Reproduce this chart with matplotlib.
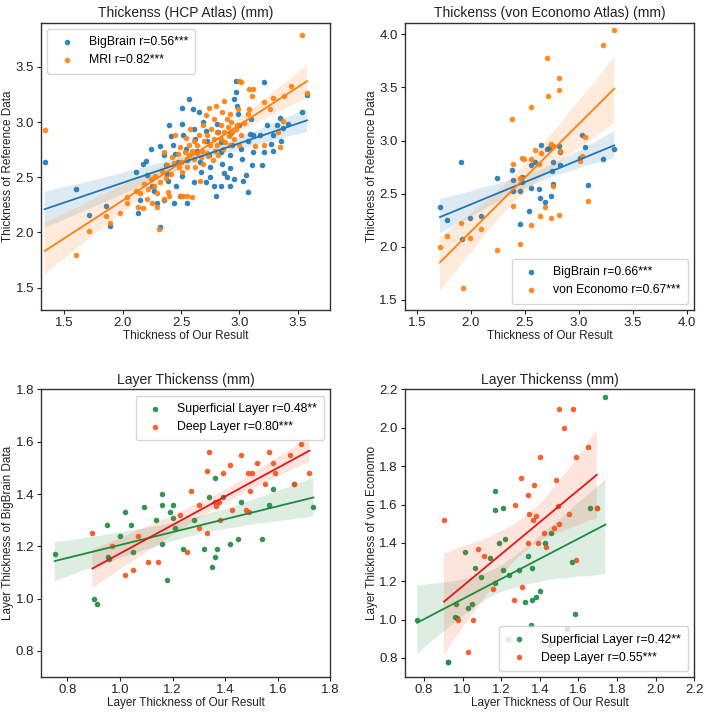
import matplotlib
matplotlib.use("Agg")
import matplotlib.pyplot as plt
import seaborn as sns
import numpy as np

plt.rcParams['font.family'] = ['Liberation Sans', 'DejaVu Sans']

# ____________________ HCP atlas (top left) ____________________
hcp_bb_x = [1.33, 1.60, 1.86, 1.71, 1.89, 2.11, 2.13, 2.17, 2.20, 2.15,
            2.24, 2.21, 2.25, 2.27, 2.32, 2.29, 2.32, 2.35, 2.37, 2.38,
            2.39, 2.35, 2.40, 2.41, 2.43, 2.45, 2.47, 2.46, 2.44, 2.51,
            2.51, 2.52, 2.54, 2.55, 2.51, 2.49, 2.55, 2.57, 2.60, 2.61,
            2.62, 2.64, 2.66, 2.67, 2.61, 2.65, 2.69, 2.71, 2.72, 2.74,
            2.75, 2.75, 2.71, 2.78, 2.80, 2.81, 2.82, 2.84, 2.84, 2.85,
            2.87, 2.89, 2.84, 2.92, 2.94, 2.92, 2.92, 2.95, 2.92, 2.97,
            2.95, 2.98, 2.99, 3.00, 3.01, 3.02, 3.03, 2.97, 3.06, 3.07,
            3.07, 3.09, 3.12, 3.10, 3.12, 3.11, 3.18, 3.21, 3.19, 3.24,
            3.27, 3.29, 3.29, 3.21, 3.32, 3.36, 3.35, 3.37, 3.42, 3.54,
            3.58]
hcp_bb_y = [2.64, 2.39, 2.24, 2.16, 2.06, 2.55, 2.18, 2.62, 2.65, 2.29,
            2.76, 2.52, 2.42, 2.38, 2.05, 2.27, 2.78, 2.70, 2.61, 2.53,
            2.47, 2.29, 2.97, 2.87, 2.79, 2.71, 2.64, 2.42, 2.27, 3.13,
            2.98, 2.88, 2.76, 2.66, 2.51, 2.33, 2.27, 3.21, 3.12, 2.94,
            2.85, 2.74, 2.64, 2.55, 2.46, 3.09, 3.00, 2.92, 2.83, 2.70,
            2.59, 2.50, 2.46, 2.42, 2.33, 2.98, 2.91, 2.82, 2.73, 2.62,
            2.54, 2.50, 2.42, 2.89, 2.79, 2.70, 2.58, 2.48, 2.42, 3.27,
            3.21, 3.15, 3.07, 2.97, 2.76, 2.67, 2.47, 3.37, 2.52, 2.37,
            2.83, 2.89, 2.88, 3.03, 2.73, 2.61, 2.88, 2.73, 2.61, 2.97,
            2.80, 2.88, 2.74, 3.36, 2.97, 2.83, 3.04, 2.95, 2.98, 3.09,
            3.25]
hcp_mri_x = [1.33, 1.60, 1.71, 1.86, 1.89, 1.98, 2.04, 2.04, 2.11, 2.13,
             2.15, 2.17, 2.18, 2.21, 2.22, 2.24, 2.25, 2.27, 2.28, 2.29,
             2.29, 2.31, 2.32, 2.34, 2.35, 2.35, 2.37, 2.38, 2.39, 2.40,
             2.41, 2.42, 2.44, 2.45, 2.47, 2.48, 2.49, 2.50, 2.51, 2.52,
             2.53, 2.54, 2.55, 2.55, 2.57, 2.57, 2.58, 2.59, 2.59, 2.61,
             2.61, 2.62, 2.64, 2.64, 2.65, 2.66, 2.67, 2.68, 2.69, 2.69,
             2.70, 2.71, 2.72, 2.72, 2.73, 2.74, 2.75, 2.76, 2.77, 2.78,
             2.78, 2.79, 2.80, 2.81, 2.81, 2.82, 2.84, 2.84, 2.85, 2.86,
             2.87, 2.87, 2.88, 2.89, 2.90, 2.91, 2.92, 2.92, 2.93, 2.94,
             2.95, 2.97, 2.98, 3.00, 3.01, 3.04, 3.07, 3.08, 2.99, 3.00,
             3.01, 3.08, 3.12, 3.11, 3.21, 3.26, 3.29, 3.33, 3.37, 3.21,
             3.38, 3.44, 3.54, 3.58, 3.35, 3.13, 2.49, 2.55]
hcp_mri_y = [2.93, 1.80, 2.01, 2.15, 2.09, 2.18, 2.32, 2.27, 2.38, 2.23,
             2.36, 2.22, 2.44, 2.30, 2.39, 2.48, 2.27, 2.42, 2.51, 2.36,
             2.23, 2.03, 2.46, 2.56, 2.30, 2.73, 2.49, 2.61, 2.37, 2.33,
             2.53, 2.68, 2.63, 2.88, 2.71, 2.59, 2.77, 2.64, 2.55, 2.33,
             2.73, 2.86, 2.67, 2.59, 2.79, 2.70, 2.94, 2.32, 2.74, 2.83,
             2.67, 2.59, 2.72, 2.79, 2.88, 2.47, 2.68, 2.74, 2.97, 2.62,
             2.83, 3.06, 2.72, 2.88, 2.69, 3.13, 2.79, 2.94, 2.66, 2.85,
             3.03, 2.74, 3.15, 2.91, 2.79, 2.70, 2.97, 2.85, 3.09, 2.76,
             3.19, 2.91, 2.82, 3.03, 2.96, 2.87, 3.07, 2.79, 3.00, 2.91,
             2.85, 2.94, 2.97, 2.79, 2.88, 2.99, 3.07, 3.12, 3.12, 3.37,
             3.36, 3.30, 3.30, 3.24, 3.18, 3.12, 3.22, 2.91, 3.01, 2.79,
             3.24, 3.33, 3.79, 3.26, 2.77, 2.78, 2.33, 2.33]

# ____________________ von Economo atlas (top right) ____________________
ve_bb_x = [1.715, 1.785, 1.91, 1.92, 1.99, 2.10, 2.24, 2.38, 2.39, 2.39,
           2.46, 2.46, 2.48, 2.48, 2.54, 2.56, 2.56, 2.60, 2.63, 2.64,
           2.65, 2.69, 2.71, 2.73, 2.74, 2.75, 2.76, 2.76, 2.82, 2.83,
           2.83, 3.03, 3.01, 3.06, 3.09, 3.23, 3.33]
ve_bb_y = [2.37, 2.25, 2.80, 2.07, 2.27, 2.29, 2.65, 2.72, 2.63, 2.52,
           2.52, 2.21, 2.66, 2.61, 2.34, 2.55, 2.77, 2.80, 2.54, 2.46,
           2.96, 2.42, 2.92, 2.93, 2.48, 2.71, 2.80, 2.59, 2.95, 2.77,
           2.89, 3.05, 2.84, 2.94, 2.58, 2.83, 2.92]
ve_ve_x = [1.715, 1.785, 1.91, 1.93, 1.99, 2.10, 2.24, 2.38, 2.39, 2.39,
           2.46, 2.46, 2.48, 2.49, 2.56, 2.56, 2.56, 2.60, 2.63, 2.64,
           2.65, 2.69, 2.71, 2.72, 2.74, 2.74, 2.76, 2.76, 2.82, 2.82,
           2.82, 2.83, 3.01, 3.03, 3.06, 3.09, 3.23, 3.33]
ve_ve_y = [2.00, 2.10, 2.22, 1.61, 2.08, 2.17, 1.97, 3.20, 2.78, 2.38,
           2.02, 2.65, 2.84, 2.83, 3.32, 2.20, 2.83, 2.91, 2.78, 2.29,
           2.88, 2.37, 3.78, 3.42, 2.27, 2.97, 2.95, 2.57, 3.59, 3.48,
           2.30, 2.90, 2.81, 2.85, 3.03, 2.43, 3.90, 4.04]

# ____________________ layers vs BigBrain (bottom left) ____________________
bb_sup_x = [0.752, 0.90, 0.914, 0.952, 0.955, 0.96, 1.00, 1.02, 1.04, 1.05,
            1.09, 1.135, 1.16, 1.16, 1.16, 1.18, 1.19, 1.20, 1.20, 1.21,
            1.24, 1.28, 1.32, 1.34, 1.35, 1.36, 1.36, 1.37, 1.39, 1.42,
            1.45, 1.46, 1.54, 1.565, 1.58, 1.66, 1.735]
bb_sup_y = [1.17, 1.00, 0.98, 1.28, 1.16, 1.15, 1.24, 1.33, 1.28, 1.18,
            1.35, 1.30, 1.40, 1.36, 1.21, 1.07, 1.33, 1.31, 1.36, 1.27,
            1.19, 1.30, 1.19, 1.39, 1.12, 1.16, 1.46, 1.19, 1.39, 1.21,
            1.23, 1.37, 1.23, 1.36, 1.42, 1.44, 1.35]
bb_deep_x = [0.895, 0.97, 1.02, 1.05, 1.07, 1.105, 1.145, 1.23, 1.255, 1.27,
             1.30, 1.30, 1.33, 1.33, 1.34, 1.36, 1.365, 1.37, 1.375, 1.38,
             1.39, 1.42, 1.425, 1.46, 1.48, 1.485, 1.49, 1.495, 1.50, 1.52,
             1.55, 1.565, 1.58, 1.59, 1.645, 1.66, 1.69, 1.72]
bb_deep_y = [1.25, 1.20, 1.09, 1.11, 1.24, 1.14, 1.14, 1.32, 1.18, 1.41,
             1.36, 1.27, 1.25, 1.49, 1.56, 1.37, 1.355, 1.37, 1.37, 1.30,
             1.48, 1.51, 1.34, 1.55, 1.34, 1.48, 1.33, 1.41, 1.48, 1.52,
             1.44, 1.56, 1.52, 1.48, 1.55, 1.44, 1.59, 1.48]

# ____________________ layers vs von Economo (bottom right) ____________________
# two green dots are hidden under other dots in the picture (guessed)
ve_sup_x = [0.764, 0.923, 0.923, 0.963, 0.958, 0.971, 1.01, 1.026, 1.048, 1.062,
            1.095, 1.14, 1.17, 1.17, 1.17, 1.19, 1.21, 1.21, 1.22, 1.24,
            1.29, 1.325, 1.34, 1.355, 1.36, 1.36, 1.38, 1.40, 1.425, 1.46,
            1.455, 1.54, 1.565, 1.58, 1.66, 1.695, 1.74]
ve_sup_y = [1.00, 0.78, 0.78, 1.08, 1.015, 1.01, 1.35, 1.06, 1.08, 1.27,
            1.22, 1.32, 1.67, 1.57, 1.19, 1.40, 1.58, 1.26, 1.42, 1.23,
            1.26, 1.09, 1.33, 0.97, 1.27, 1.10, 1.12, 1.15, 1.40, 1.45,
            0.87, 0.95, 1.30, 1.03, 1.58, 1.58, 2.16]
ve_deep_x = [0.903, 0.975, 1.03, 1.055, 1.08, 1.11, 1.155, 1.237, 1.266, 1.27,
             1.30, 1.305, 1.34, 1.34, 1.345, 1.365, 1.37, 1.38, 1.39, 1.40,
             1.42, 1.43, 1.475, 1.485, 1.495, 1.50, 1.50, 1.525, 1.55, 1.57,
             1.585, 1.59, 1.65, 1.665, 1.695]
ve_deep_y = [1.52, 1.00, 0.83, 1.00, 1.37, 1.33, 1.16, 0.90, 1.10, 1.60,
             1.74, 1.17, 1.65, 1.40, 1.55, 1.52, 1.70, 1.54, 1.40, 1.85,
             1.45, 1.38, 1.48, 1.73, 1.59, 2.10, 1.50, 2.00, 1.55, 2.10,
             1.85, 1.31, 1.90, 0.90, 1.58]

BLUE = '#1f77b4'
ORANGE = '#ff7f0e'
GREEN = '#1e8a3e'
DEEP = '#f4511e'
EDGE = '#3a2e2e'


def reg(ax, x, y, color, label, line_color=None):
    sns.regplot(x=np.array(x), y=np.array(y), ax=ax, color=color, label=label,
                seed=0, scatter_kws={'s': 16, 'alpha': 0.9, 'linewidths': 0},
                line_kws={'lw': 1.3})
    if line_color is not None:
        ax.lines[-1].set_color(line_color)


def style(ax, title, xlabel, ylabel, lim_x, lim_y, ticks_x, ticks_y, loc):
    ax.set_title(title, fontsize=10, color='#222222', pad=4)
    ax.set_xlabel(xlabel, fontsize=8.5, color='#222222', labelpad=1)
    ax.set_ylabel(ylabel, fontsize=8.5, color='#222222', labelpad=1)
    ax.set_xlim(lim_x)
    ax.set_ylim(lim_y)
    ax.set_xticks(ticks_x)
    ax.set_yticks(ticks_y)
    ax.tick_params(labelsize=9.5, colors='#222222', length=3, pad=2)
    for s in ax.spines.values():
        s.set_color(EDGE)
        s.set_linewidth(1.0)
    ax.legend(loc=loc, fontsize=8.8, handletextpad=0.8, borderpad=0.6)


fig = plt.figure(figsize=(7.09, 7.12), dpi=100)
ax1 = fig.add_axes([0.058, 0.565, 0.408, 0.403])
ax2 = fig.add_axes([0.571, 0.565, 0.408, 0.403])
ax3 = fig.add_axes([0.058, 0.049, 0.408, 0.404])
ax4 = fig.add_axes([0.571, 0.049, 0.408, 0.404])

reg(ax1, hcp_bb_x, hcp_bb_y, BLUE, 'BigBrain r=0.56***')
reg(ax1, hcp_mri_x, hcp_mri_y, ORANGE, 'MRI r=0.82***')
style(ax1, 'Thickenss (HCP Atlas) (mm)', 'Thickness of Our Result',
      'Thickness of Reference Data', (1.30, 3.78), (1.30, 3.90),
      [1.5, 2.0, 2.5, 3.0, 3.5], [1.5, 2.0, 2.5, 3.0, 3.5], 'upper left')

reg(ax2, ve_bb_x, ve_bb_y, BLUE, 'BigBrain r=0.66***')
reg(ax2, ve_ve_x, ve_ve_y, ORANGE, 'von Economo r=0.67***')
style(ax2, 'Thickenss (von Economo Atlas) (mm)', 'Thickness of Our Result',
      'Thickness of Reference Data', (1.39, 4.07), (1.405, 4.11),
      [1.5, 2.0, 2.5, 3.0, 3.5, 4.0], [1.5, 2.0, 2.5, 3.0, 3.5, 4.0], 'lower right')

reg(ax3, bb_sup_x, bb_sup_y, GREEN, 'Superficial Layer r=0.48**')
reg(ax3, bb_deep_x, bb_deep_y, DEEP, 'Deep Layer r=0.80***', line_color='#e8141c')
style(ax3, 'Layer Thickenss (mm)', 'Layer Thickness of Our Result',
      'Layer Thickness of BigBrain Data', (0.7, 1.8), (0.7, 1.8),
      [0.8, 1.0, 1.2, 1.4, 1.6, 1.8], [0.8, 1.0, 1.2, 1.4, 1.6, 1.8], 'upper right')

reg(ax4, ve_sup_x, ve_sup_y, GREEN, 'Superficial Layer r=0.42**')
reg(ax4, ve_deep_x, ve_deep_y, DEEP, 'Deep Layer r=0.55***', line_color='#e8141c')
style(ax4, 'Layer Thickenss (mm)', 'Layer Thickness of Our Result',
      'Layer Thickness of von Economo', (0.7, 2.2), (0.7, 2.2),
      [0.8, 1.0, 1.2, 1.4, 1.6, 1.8, 2.0, 2.2],
      [0.8, 1.0, 1.2, 1.4, 1.6, 1.8, 2.0, 2.2], 'lower right')

fig.savefig('out.png', dpi=100)
